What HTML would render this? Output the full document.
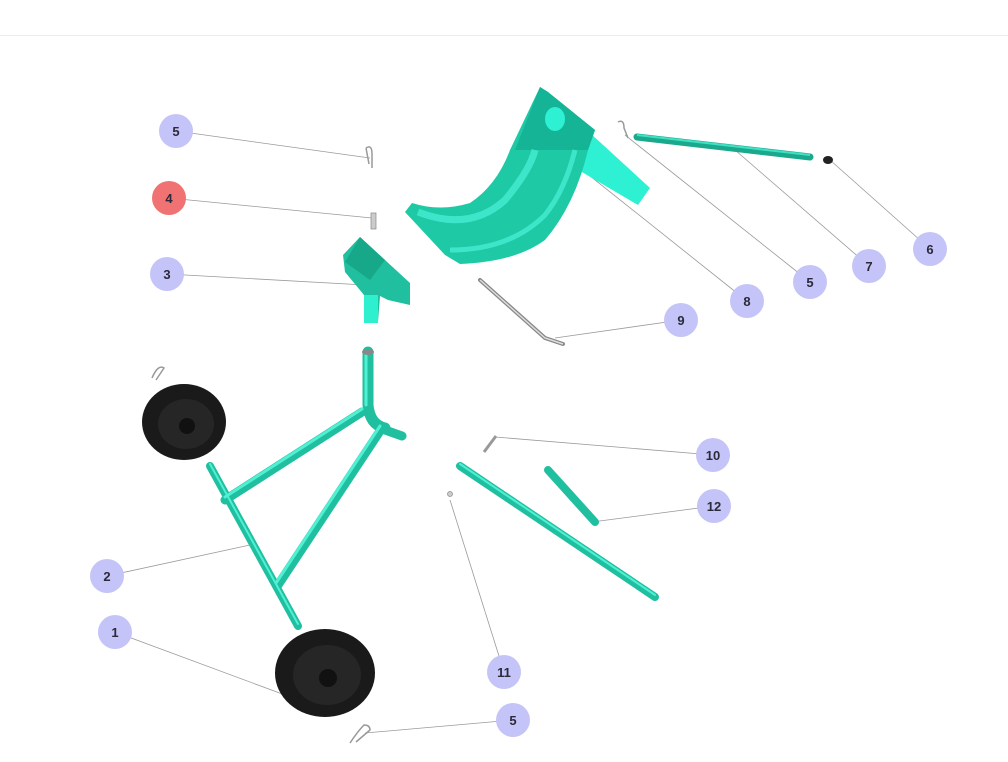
<!DOCTYPE html>
<html><head><meta charset="utf-8"><style>
html,body{margin:0;padding:0;background:#fff;}
svg{display:block;}
text{font-family:"Liberation Sans",sans-serif;font-weight:bold;font-size:13px;fill:#2a2a3a;text-anchor:middle;}
</style></head><body>
<svg width="1008" height="762" viewBox="0 0 1008 762">
<rect width="1008" height="762" fill="#fff"/>
<line x1="0" y1="35.5" x2="1008" y2="35.5" stroke="#ececec"/>
<g stroke="#9a9a9a" stroke-width="0.8">
<line x1="176" y1="131" x2="370" y2="158"/>
<line x1="169" y1="198" x2="372" y2="218"/>
<line x1="167" y1="274" x2="365" y2="285"/>
<line x1="107" y1="576" x2="250" y2="545"/>
<line x1="115" y1="632" x2="285" y2="695"/>
<line x1="504" y1="672" x2="450" y2="500"/>
<line x1="513" y1="720" x2="365" y2="733"/>
<line x1="713" y1="455" x2="495" y2="437"/>
<line x1="714" y1="506" x2="592" y2="522"/>
<line x1="681" y1="320" x2="555" y2="338"/>
<line x1="747" y1="301" x2="570" y2="160"/>
<line x1="810" y1="282" x2="625" y2="135"/>
<line x1="869" y1="266" x2="735" y2="150"/>
<line x1="930" y1="249" x2="830" y2="160"/>
</g>
<!-- arm -->
<polygon points="568,140 590,133 650,188 638,205 570,165" fill="#2ef0d2"/>
<!-- chute -->
<path d="M540,87 L548,92 L595,130 L588,150 Q575,205 545,240 Q515,262 460,264 L445,255 L405,212 L412,203 Q440,212 470,203 Q497,185 510,150 Z" fill="#1ec9a5"/>
<path d="M540,87 L548,92 L595,130 L588,150 L515,150 Z" fill="#16b496"/>
<path d="M418,212 Q470,232 505,200 Q530,170 535,150" stroke="#3ee6c9" stroke-width="7" fill="none"/>
<path d="M450,250 Q510,250 545,215 Q565,190 575,150" stroke="#3ee6c9" stroke-width="5" fill="none"/>
<ellipse cx="555" cy="119" rx="10" ry="12" fill="#2ef0d2"/>
<!-- rod 7 -->
<line x1="637" y1="137" x2="810" y2="157" stroke="#1aa98c" stroke-width="7" stroke-linecap="round"/>
<line x1="637" y1="135" x2="810" y2="155" stroke="#40e0c4" stroke-width="2"/>
<ellipse cx="828" cy="160" rx="5" ry="4" fill="#222"/>
<!-- pins -->
<path d="M366,148 q6,-4 6,6 l0,14 M366,148 l3,16" stroke="#999" stroke-width="1.5" fill="none"/>
<path d="M618,122 q6,-3 6,6 l4,10" stroke="#999" stroke-width="1.5" fill="none"/>
<rect x="371" y="213" width="5" height="16" fill="#ccc" stroke="#888" stroke-width="0.7"/>
<path d="M152,378 q6,-14 12,-10 l-8,12" stroke="#999" stroke-width="1.5" fill="none"/>
<path d="M350,743 q8,-12 14,-18 q6,0 6,5 l-14,12" stroke="#999" stroke-width="1.5" fill="none"/>
<line x1="496" y1="436" x2="484" y2="452" stroke="#999" stroke-width="3"/>
<circle cx="450" cy="494" r="2.5" fill="#ccc" stroke="#888" stroke-width="0.7"/>
<!-- rod 9 -->
<polyline points="480,280 545,338 563,344" stroke="#888" stroke-width="4" fill="none" stroke-linecap="round"/>
<polyline points="480,280 545,338 563,344" stroke="#ddd" stroke-width="1.5" fill="none"/>
<!-- bracket 3 -->
<polygon points="343,255 360,237 385,260 410,283 410,305 388,300 380,296 378,322 364,322 364,295 345,272" fill="#1fbf9f"/>
<polygon points="360,237 385,260 370,280 345,262" fill="#17a88a"/>
<rect x="364" y="295" width="14" height="28" fill="#2ef0cf"/>
<!-- frame 2 -->
<g stroke-linecap="round" fill="none">
<path d="M368,352 L368,405 Q370,425 385,428" stroke="#1fbf9f" stroke-width="11"/>
<line x1="362" y1="412" x2="225" y2="500" stroke="#1fbf9f" stroke-width="9"/>
<line x1="382" y1="428" x2="278" y2="585" stroke="#1fbf9f" stroke-width="9"/>
<line x1="210" y1="466" x2="298" y2="626" stroke="#1fbf9f" stroke-width="8"/>
<line x1="385" y1="430" x2="402" y2="436" stroke="#1fbf9f" stroke-width="9"/>
<path d="M366,352 L366,405" stroke="#50f0d4" stroke-width="3"/>
<line x1="362" y1="409" x2="225" y2="497" stroke="#50f0d4" stroke-width="3"/>
<line x1="380" y1="426" x2="276" y2="583" stroke="#50f0d4" stroke-width="3"/>
<line x1="210" y1="464" x2="298" y2="624" stroke="#50f0d4" stroke-width="2"/>
</g>
<ellipse cx="368" cy="352" rx="6" ry="3" fill="#888"/>
<!-- wheels -->
<ellipse cx="184" cy="422" rx="42" ry="38" fill="#1a1a1a"/>
<ellipse cx="186" cy="424" rx="28" ry="25" fill="#262626"/>
<ellipse cx="187" cy="426" rx="8" ry="8" fill="#111"/>
<ellipse cx="325" cy="673" rx="50" ry="44" fill="#1a1a1a"/>
<ellipse cx="327" cy="675" rx="34" ry="30" fill="#262626"/>
<ellipse cx="328" cy="678" rx="9" ry="9" fill="#111"/>
<!-- part 12 -->
<g stroke-linecap="round">
<line x1="460" y1="466" x2="655" y2="597" stroke="#1fbf9f" stroke-width="8"/>
<line x1="548" y1="470" x2="595" y2="522" stroke="#1fbf9f" stroke-width="8"/>
<line x1="460" y1="464" x2="655" y2="595" stroke="#50f0d4" stroke-width="2"/>
</g>
<g fill="#c4c4f8">
<circle cx="176" cy="131" r="17"/><circle cx="167" cy="274" r="17"/>
<circle cx="107" cy="576" r="17"/><circle cx="115" cy="632" r="17"/>
<circle cx="504" cy="672" r="17"/><circle cx="513" cy="720" r="17"/>
<circle cx="713" cy="455" r="17"/><circle cx="714" cy="506" r="17"/>
<circle cx="681" cy="320" r="17"/><circle cx="747" cy="301" r="17"/>
<circle cx="810" cy="282" r="17"/><circle cx="869" cy="266" r="17"/>
<circle cx="930" cy="249" r="17"/>
</g>
<circle cx="169" cy="198" r="17" fill="#f07272"/>
<text x="176" y="136">5</text><text x="169" y="203">4</text><text x="167" y="279">3</text>
<text x="107" y="581">2</text><text x="115" y="637">1</text><text x="504" y="677">11</text>
<text x="513" y="725">5</text><text x="713" y="460">10</text><text x="714" y="511">12</text>
<text x="681" y="325">9</text><text x="747" y="306">8</text><text x="810" y="287">5</text>
<text x="869" y="271">7</text><text x="930" y="254">6</text>
</svg>
</body></html>
